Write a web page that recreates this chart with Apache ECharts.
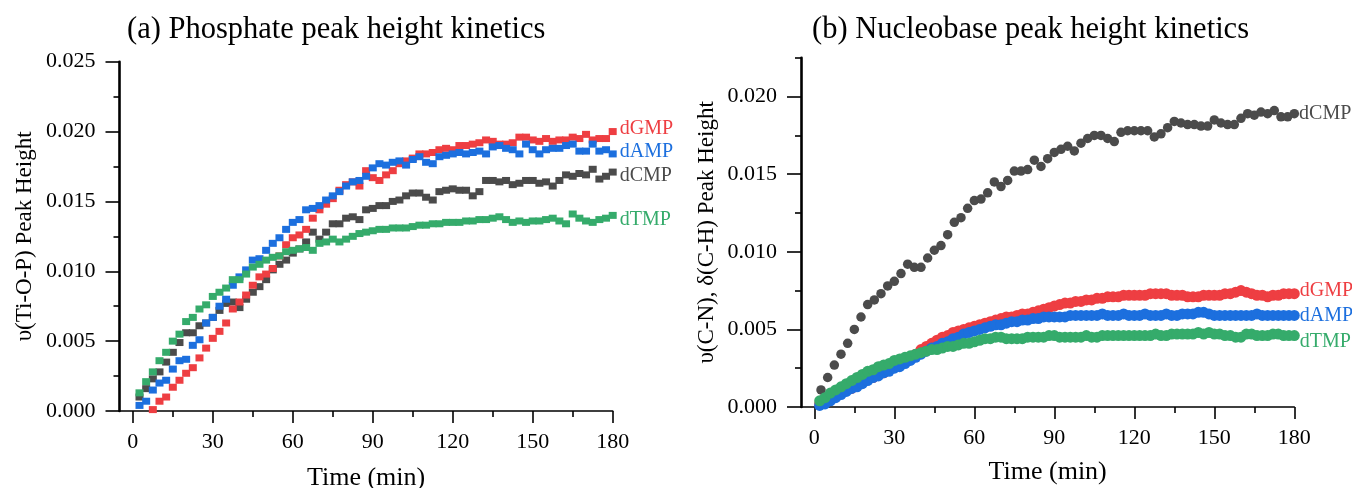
<!DOCTYPE html>
<html><head><meta charset="utf-8">
<script src="https://cdn.jsdelivr.net/npm/echarts@6/dist/echarts.min.js"></script>
<style>html,body{margin:0;padding:0;background:#fff}#c{width:1352px;height:488px}</style>
</head><body><div id="c"></div>
<script>
const FONT = "'Liberation Serif','Times New Roman',serif";

// ---- Panel (a): phosphate, sampled every 2.5 min ----
const phosStart = 2.5, phosStep = 2.5;
const phosRedStart = 7.5;
const phos_dGMP = [
0.0001,0.0007,0.0010,0.0017,0.0022,0.0027,0.0031,0.0038,0.0045,0.0052,
0.0057,0.0063,0.0073,0.0078,0.0083,0.0090,0.0096,0.0098,0.0102,0.0111,
0.0119,0.0124,0.0126,0.0130,0.0138,0.0144,0.0148,0.0152,0.0158,0.0162,
0.0164,0.0161,0.0172,0.0167,0.0165,0.0169,0.0172,0.0177,0.0179,0.0181,
0.0184,0.0184,0.0185,0.0187,0.0188,0.0187,0.0190,0.0190,0.0191,0.0192,
0.0194,0.0193,0.0191,0.0191,0.0192,0.0196,0.0196,0.0194,0.0193,0.0195,
0.0193,0.0194,0.0194,0.0196,0.0195,0.0198,0.0194,0.0195,0.0195,0.0200];
const phos_dAMP = [
0.0004,0.0007,0.0015,0.0020,0.0022,0.0030,0.0036,0.0037,0.0047,0.0051,
0.0063,0.0067,0.0075,0.0080,0.0090,0.0096,0.0101,0.0108,0.0109,0.0115,
0.0120,0.0124,0.0130,0.0135,0.0137,0.0144,0.0145,0.0147,0.0151,0.0154,
0.0157,0.0161,0.0164,0.0165,0.0168,0.0174,0.0177,0.0176,0.0178,0.0179,
0.0176,0.0180,0.0182,0.0178,0.0177,0.0182,0.0183,0.0184,0.0185,0.0184,
0.0185,0.0186,0.0184,0.0189,0.0190,0.0188,0.0187,0.0184,0.0191,0.0187,
0.0184,0.0187,0.0188,0.0188,0.0190,0.0191,0.0186,0.0186,0.0191,0.0186,
0.0187,0.0184];
const phos_dCMP = [
0.0010,0.0016,0.0023,0.0028,0.0035,0.0042,0.0049,0.0056,0.0056,0.0061,
0.0063,0.0067,0.0072,0.0077,0.0078,0.0074,0.0080,0.0085,0.0089,0.0094,
0.0101,0.0105,0.0108,0.0113,0.0116,0.0121,0.0128,0.0123,0.0128,0.0134,
0.0134,0.0138,0.0139,0.0137,0.0144,0.0145,0.0147,0.0147,0.0150,0.0151,
0.0154,0.0156,0.0156,0.0153,0.0151,0.0157,0.0158,0.0159,0.0158,0.0158,
0.0154,0.0157,0.0165,0.0165,0.0164,0.0165,0.0162,0.0163,0.0165,0.0165,
0.0163,0.0164,0.0161,0.0165,0.0169,0.0168,0.0170,0.0169,0.0173,0.0166,
0.0168,0.0171];
const phos_dTMP = [
0.0013,0.0021,0.0028,0.0036,0.0042,0.0050,0.0055,0.0064,0.0067,0.0073,
0.0076,0.0082,0.0085,0.0088,0.0094,0.0094,0.0098,0.0103,0.0105,0.0108,
0.0110,0.0111,0.0114,0.0115,0.0116,0.0117,0.0115,0.0120,0.0121,0.0123,
0.0121,0.0123,0.0125,0.0127,0.0128,0.0129,0.0130,0.0130,0.0131,0.0131,
0.0131,0.0132,0.0133,0.0133,0.0134,0.0134,0.0135,0.0135,0.0135,0.0136,
0.0136,0.0137,0.0137,0.0138,0.0139,0.0137,0.0135,0.0136,0.0135,0.0136,
0.0136,0.0137,0.0138,0.0136,0.0134,0.0141,0.0138,0.0136,0.0135,0.0137,
0.0138,0.0140];

// ---- Panel (b): nucleobase ----
const baseDenseStart = 2, baseDenseStep = 2;   // dGMP, dAMP, dTMP
const baseCStart = 2.5, baseCStep = 2.5;       // dCMP
const base_dCMP = [
0.0011,0.0019,0.0027,0.0034,0.0041,0.0050,0.0058,0.0066,0.0069,0.0073,
0.0078,0.0081,0.0086,0.0092,0.0090,0.0090,0.0096,0.0101,0.0104,0.0111,
0.0119,0.0122,0.0128,0.0133,0.0134,0.0138,0.0145,0.0142,0.0146,0.0152,
0.0152,0.0153,0.0159,0.0155,0.0160,0.0164,0.0166,0.0168,0.0165,0.0170,
0.0173,0.0175,0.0175,0.0173,0.0171,0.0177,0.0178,0.0178,0.0178,0.0178,
0.0174,0.0176,0.0180,0.0184,0.0183,0.0182,0.0182,0.0181,0.0181,0.0185,
0.0183,0.0182,0.0182,0.0186,0.0189,0.0188,0.0190,0.0189,0.0191,0.0187,
0.0187,0.0189];
const base_dGMP = [
0.0002,0.0003,0.0005,0.0007,0.0009,0.0011,0.0012,0.0014,0.0016,0.0018,
0.0019,0.0021,0.0022,0.0024,0.0026,0.0027,0.0029,0.0031,0.0034,0.0037,
0.0039,0.0041,0.0043,0.0045,0.0046,0.0048,0.0049,0.0050,0.0051,0.0052,
0.0053,0.0054,0.0055,0.0056,0.0057,0.0058,0.0058,0.0059,0.0060,0.0060,
0.0061,0.0062,0.0063,0.0064,0.0065,0.0066,0.0067,0.0067,0.0068,0.0068,
0.0069,0.0069,0.0070,0.0070,0.0071,0.0071,0.0071,0.0072,0.0072,0.0072,
0.0072,0.0072,0.0073,0.0073,0.0073,0.0073,0.0072,0.0072,0.0072,0.0071,
0.0071,0.0071,0.0072,0.0072,0.0072,0.0072,0.0073,0.0073,0.0074,0.0075,
0.0074,0.0073,0.0072,0.0072,0.0071,0.0072,0.0072,0.0073,0.0073,0.0073];
const base_dAMP = [
0.0001,0.0002,0.0004,0.0006,0.0008,0.0010,0.0012,0.0013,0.0015,0.0017,
0.0019,0.0020,0.0022,0.0023,0.0025,0.0026,0.0028,0.0030,0.0032,0.0034,
0.0036,0.0038,0.0039,0.0041,0.0042,0.0044,0.0045,0.0047,0.0048,0.0049,
0.0050,0.0051,0.0052,0.0053,0.0053,0.0054,0.0055,0.0055,0.0056,0.0056,
0.0057,0.0057,0.0058,0.0058,0.0058,0.0058,0.0058,0.0059,0.0059,0.0059,
0.0059,0.0059,0.0059,0.0060,0.0059,0.0059,0.0059,0.0060,0.0059,0.0059,
0.0059,0.0060,0.0059,0.0059,0.0059,0.0060,0.0059,0.0059,0.0060,0.0060,
0.0060,0.0061,0.0061,0.0060,0.0059,0.0059,0.0059,0.0059,0.0059,0.0059,
0.0059,0.0059,0.0060,0.0059,0.0059,0.0059,0.0059,0.0059,0.0059,0.0059];
const base_dTMP = [
0.0004,0.0006,0.0009,0.0011,0.0013,0.0015,0.0017,0.0019,0.0021,0.0023,
0.0024,0.0026,0.0027,0.0028,0.0030,0.0031,0.0032,0.0033,0.0034,0.0035,
0.0036,0.0037,0.0037,0.0038,0.0039,0.0039,0.0040,0.0041,0.0041,0.0042,
0.0043,0.0044,0.0044,0.0045,0.0045,0.0044,0.0044,0.0044,0.0044,0.0045,
0.0045,0.0045,0.0045,0.0046,0.0046,0.0045,0.0045,0.0045,0.0045,0.0045,
0.0046,0.0045,0.0045,0.0046,0.0046,0.0046,0.0046,0.0046,0.0046,0.0046,
0.0046,0.0046,0.0046,0.0047,0.0046,0.0046,0.0047,0.0047,0.0047,0.0047,
0.0047,0.0048,0.0047,0.0048,0.0047,0.0047,0.0046,0.0046,0.0045,0.0045,
0.0047,0.0047,0.0046,0.0046,0.0046,0.0047,0.0047,0.0046,0.0046,0.0046];

// ---- tick labels ----
const xMajor = [0,30,60,90,120,150,180];
const xMinor = [15,45,75,105,135,165];
const yMajorA = [0,0.005,0.010,0.015,0.020,0.025];
const yMinorA = [0.0025,0.0075,0.0125,0.0175,0.0225];
const yMajorB = [0,0.005,0.010,0.015,0.020];
const yMinorB = [0.0025,0.0075,0.0125,0.0175,0.0225];

const titles = ['(a) Phosphate peak height kinetics','(b) Nucleobase peak height kinetics'];
const yNames = ['\u03c5(Ti-O-P) Peak Height','\u03c5(C-N), \u03b4(C-H) Peak Height'];
const xName = 'Time (min)';

const COL = {dGMP:'#EE3E42', dAMP:'#1C6FDE', dCMP:'#4B4B4B', dTMP:'#35AB6B'};

function pairs(vals, start, step, name, lab){
  return vals.map((v,i)=>{
    const it = {value:[start+i*step, v]};
    if(i===vals.length-1 && lab){
      it.label = {show:true, formatter:name, position:'right', distance:lab.d,
        offset:[0,lab.dy], color:COL[name], fontSize:20, fontFamily:FONT};
    }
    return it;
  });
}

const axisCol = '#000';
function xPair(gi, gap){
  return [
    {type:'value', gridIndex:gi, min:-5, max:180, position:'bottom',
     axisLine:{show:true, onZero:false, lineStyle:{color:axisCol, width:1.6}},
     axisTick:{show:true, inside:false, length:12, customValues:xMajor, lineStyle:{color:axisCol,width:1.6}},
     axisLabel:{show:true, customValues:xMajor, margin:20, color:'#000', fontSize:22, fontFamily:FONT},
     splitLine:{show:false},
     name:xName, nameLocation:'middle', nameGap:gap,
     nameTextStyle:{color:'#000', fontSize:26, fontFamily:FONT}},
    {type:'value', gridIndex:gi, min:-5, max:180, position:'bottom', offset:0,
     axisLine:{show:false, onZero:false},
     axisTick:{show:true, inside:false, length:6, customValues:xMinor, lineStyle:{color:axisCol,width:1.6}},
     axisLabel:{show:false}, splitLine:{show:false}}
  ];
}
function yPair(gi, max, major, minor, name, gap){
  return [
    {type:'value', gridIndex:gi, min:0, max:max, position:'left',
     axisLine:{show:true, onZero:false, lineStyle:{color:axisCol, width:2.6}},
     axisTick:{show:true, inside:false, length:14, customValues:major, lineStyle:{color:axisCol,width:1.6}},
     axisLabel:{show:true, customValues:major, margin:24, color:'#000', fontSize:22, fontFamily:FONT,
       formatter:v=>Number(v).toFixed(3)},
     splitLine:{show:false},
     name:name, nameLocation:'middle', nameGap:gap,
     nameTextStyle:{color:'#000', fontSize:23, fontFamily:FONT}},
    {type:'value', gridIndex:gi, min:0, max:max, position:'left', offset:0,
     axisLine:{show:false, onZero:false},
     axisTick:{show:true, inside:false, length:6, customValues:minor, lineStyle:{color:axisCol,width:1.6}},
     axisLabel:{show:false}, splitLine:{show:false}}
  ];
}

function sq(name, data, xi, yi){
  return {type:'scatter', name, xAxisIndex:xi, yAxisIndex:yi, data, symbol:'rect', symbolSize:[8,7],
    itemStyle:{color:COL[name], opacity:1}, silent:true, clip:false};
}
function dot(name, data, xi, yi, size){
  return {type:'scatter', name, xAxisIndex:xi, yAxisIndex:yi, data, symbol:'circle', symbolSize:size,
    itemStyle:{color:COL[name], opacity:1}, silent:true, clip:false};
}

const chart = echarts.init(document.getElementById('c'), null, {renderer:'canvas'});
chart.setOption({
  animation:false,
  backgroundColor:'#fff',
  title:[
    {text:titles[0], left:122, top:9, textStyle:{fontSize:30.5, fontWeight:'normal', color:'#000', fontFamily:FONT}},
    {text:titles[1], left:807, top:9, textStyle:{fontSize:30.5, fontWeight:'normal', color:'#000', fontFamily:FONT}}
  ],
  grid:[
    {left:119.5, top:61.7, width:493.2, height:349.3, containLabel:false, outerBoundsMode:'none'},
    {left:801, top:57.8, width:493.3, height:349.2, containLabel:false, outerBoundsMode:'none'}
  ],
  xAxis:[...xPair(0, 54), ...xPair(1, 52)],
  yAxis:[...yPair(0, 0.025, yMajorA, yMinorA, yNames[0], 83),
         ...yPair(1, 0.0225, yMajorB, yMinorB, yNames[1], 83)],
  series:[
    sq('dCMP', pairs(phos_dCMP, phosStart, phosStep, 'dCMP', {d:3, dy:4}), 0, 0),
    sq('dGMP', pairs(phos_dGMP, phosRedStart, phosStep, 'dGMP', {d:3, dy:-3}), 0, 0),
    sq('dAMP', pairs(phos_dAMP, phosStart, phosStep, 'dAMP', {d:3, dy:-2}), 0, 0),
    sq('dTMP', pairs(phos_dTMP, phosStart, phosStep, 'dTMP', {d:3, dy:4}), 0, 0),
    dot('dCMP', pairs(base_dCMP, baseCStart, baseCStep, 'dCMP', {d:0, dy:0}), 2, 2, 9.5),
    dot('dGMP', pairs(base_dGMP, baseDenseStart, baseDenseStep, 'dGMP', {d:0, dy:-3}), 2, 2, 11),
    dot('dAMP', pairs(base_dAMP, baseDenseStart, baseDenseStep, 'dAMP', {d:0, dy:0}), 2, 2, 11),
    dot('dTMP', pairs(base_dTMP, baseDenseStart, baseDenseStep, 'dTMP', {d:0, dy:6}), 2, 2, 11)
  ]
});
</script></body></html>
